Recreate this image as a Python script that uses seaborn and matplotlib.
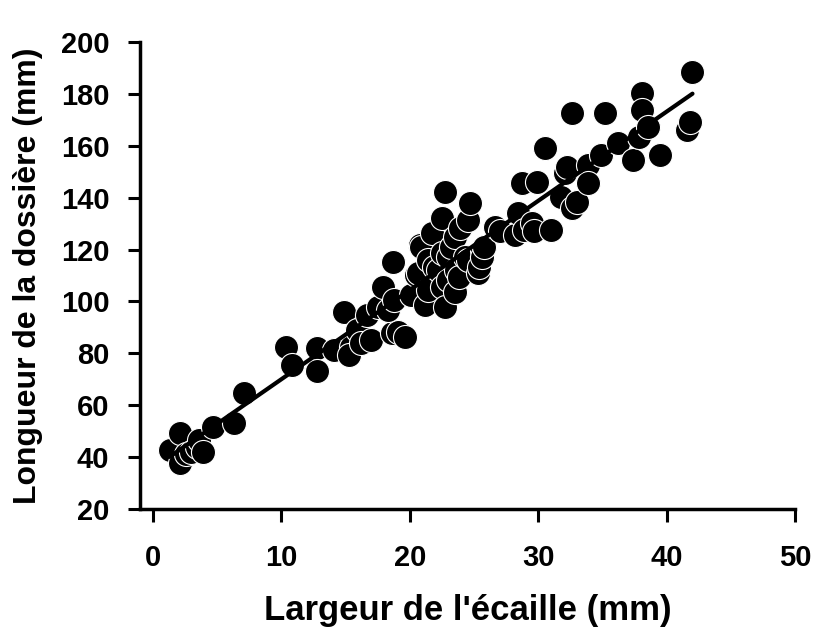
import matplotlib
matplotlib.use("Agg")
import matplotlib.pyplot as plt
import seaborn as sns
import pandas as pd

largeur = [1.3, 2.1, 2.1, 2.6, 3.0, 3.4, 3.6, 3.9, 4.7, 6.3, 7.1, 10.4, 10.8, 12.8, 12.8,
           14.1, 14.9, 15.4, 15.3, 15.9, 16.2, 16.7, 17.0, 17.5, 17.9, 18.6, 19.1, 19.6,
           18.7, 18.3, 18.8, 20.1, 20.5, 20.6, 20.8, 20.9, 21.2, 21.4, 21.4, 21.7, 21.9,
           22.2, 22.5, 22.5, 22.5, 22.7, 22.7, 23.0, 23.0, 23.2, 23.5, 23.5, 23.6, 23.8,
           23.9, 24.3, 24.5, 24.5, 24.7, 25.3, 25.4, 25.6, 25.6, 25.8, 26.6, 27.0, 28.2,
           28.4, 28.7, 28.9, 29.5, 29.7, 29.9, 30.5, 31.0, 31.8, 32.1, 32.2, 32.6, 32.6,
           33.0, 33.9, 33.9, 34.9, 35.2, 36.2, 37.4, 37.8, 38.1, 38.1, 38.5, 39.5, 41.6,
           41.8, 42.0]
longueur = [42.7, 49.2, 37.6, 41.0, 42.0, 44.0, 46.6, 42.0, 51.7, 53.0, 64.6, 82.6, 75.5, 82.0, 73.0,
            81.3, 96.0, 82.6, 79.4, 89.0, 83.9, 94.8, 85.1, 98.0, 105.7, 87.7, 88.4, 86.4,
            115.3, 96.7, 100.6, 102.5, 110.2, 110.9, 121.8, 121.1, 98.6, 116.0, 104.4, 126.3, 113.4,
            112.1, 132.0, 118.5, 105.7, 142.3, 98.0, 108.3, 117.3, 121.1, 125.0, 103.8, 112.0, 109.5,
            128.2, 117.0, 131.4, 116.0, 137.9, 110.9, 113.4, 119.8, 117.3, 121.1, 128.8, 127.0, 125.6,
            134.0, 145.6, 127.6, 130.1, 127.0, 146.2, 159.0, 127.6, 140.4, 149.5, 152.0, 172.5, 135.9,
            138.5, 152.6, 145.6, 156.5, 172.5, 161.0, 154.5, 163.5, 180.2, 173.8, 167.4, 156.5, 166.1,
            169.3, 188.6]

x_ticks = [0, 10, 20, 30, 40, 50]
y_ticks = [20, 40, 60, 80, 100, 120, 140, 160, 180, 200]

df = pd.DataFrame({"largeur": largeur, "longueur": longueur})

sns.set_style("ticks")
plt.rcParams['font.family'] = ['Liberation Sans', 'DejaVu Sans']
plt.rcParams['font.weight'] = 'bold'
for k in ['text.color', 'axes.labelcolor', 'xtick.color', 'ytick.color', 'axes.edgecolor']:
    plt.rcParams[k] = 'black'

fig = plt.figure(figsize=(8.14, 6.37), dpi=100)
ax = fig.add_axes([0.172, 0.201, 0.805, 0.733])

sns.regplot(data=df, x="largeur", y="longueur", ax=ax, ci=None, truncate=True,
            scatter_kws=dict(s=300, color="black", edgecolor="white", linewidths=0.8, alpha=1),
            line_kws=dict(color="black", lw=3, zorder=3))

ax.set_xlim(-1, 50)
ax.set_ylim(20, 200)
ax.set_xticks(x_ticks)
ax.set_yticks(y_ticks)
ax.set_xticklabels([str(t) for t in x_ticks], fontsize=21, fontweight='bold')
ax.set_yticklabels([str(t) for t in y_ticks], fontsize=21, fontweight='bold')
ax.tick_params(axis='x', direction='out', length=9, width=2.2, pad=16)
ax.tick_params(axis='y', direction='out', length=9, width=2.2, pad=13)
for s in ['top', 'right']:
    ax.spines[s].set_visible(False)
for s in ['left', 'bottom']:
    ax.spines[s].set_linewidth(2.5)
ax.set_xlabel("Largeur de l'écaille (mm)", fontsize=25, fontweight='bold', labelpad=16)
ax.set_ylabel("Longueur de la dossière (mm)", fontsize=23, fontweight='bold', labelpad=13)

fig.savefig("out.png", dpi=100)
